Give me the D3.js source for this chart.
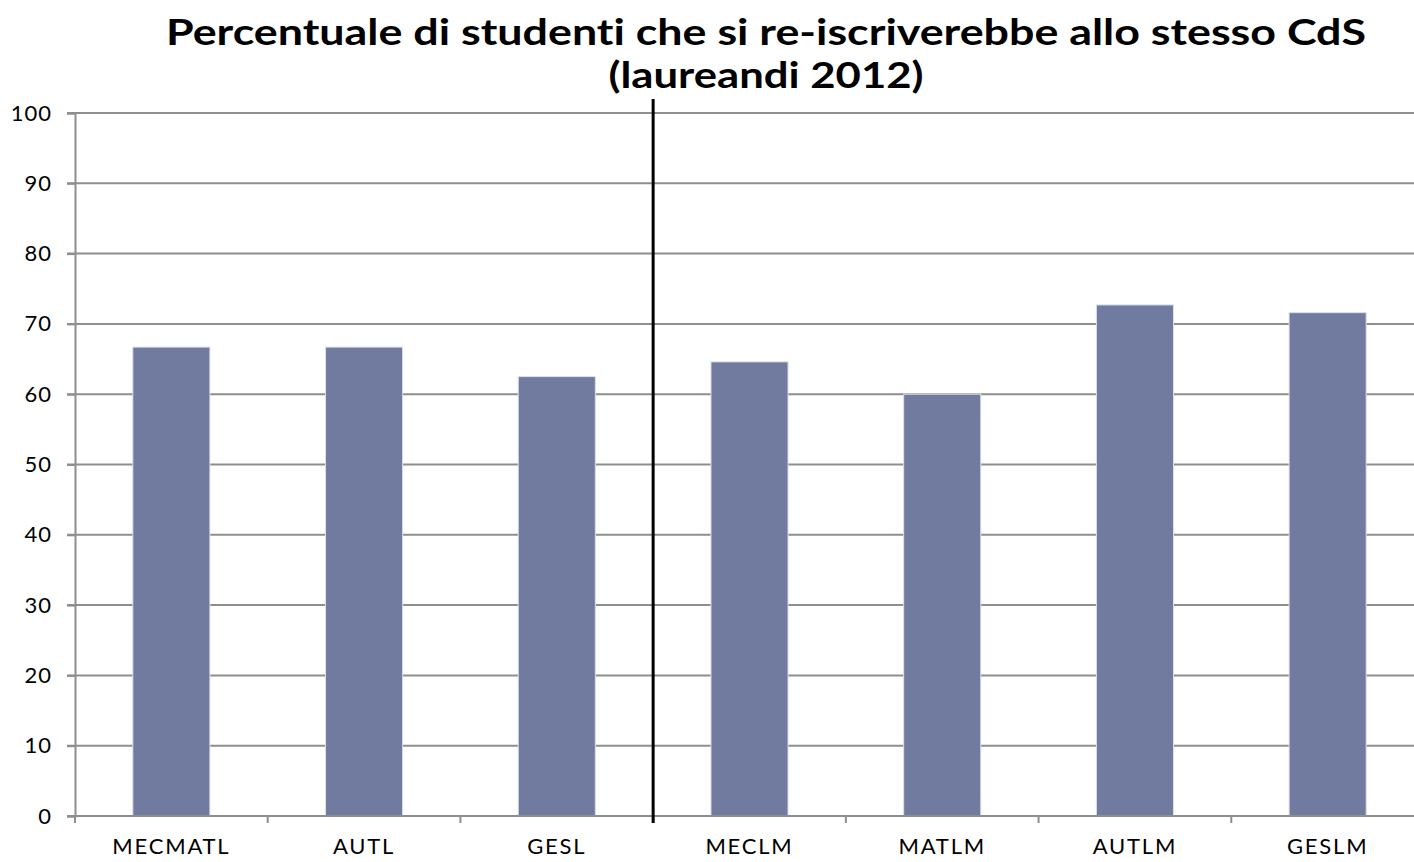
<!DOCTYPE html>
<html>
<head>
<meta charset="utf-8">
<script src="https://cdn.jsdelivr.net/npm/d3@7"></script>
<style>
  body { margin: 0; background: #fff; }
  svg { display: block; }
  text { font-variant-ligatures: none; }
</style>
</head>
<body>
<script>
const categories = ['MECMATL', 'AUTL', 'GESL', 'MECLM', 'MATLM', 'AUTLM', 'GESLM'];
const values = [66.7, 66.7, 62.5, 64.6, 60.0, 72.7, 71.6];
const yTicks = [0, 10, 20, 30, 40, 50, 60, 70, 80, 90, 100];
const titleLines = ['Percentuale di studenti che si re-iscriverebbe allo stesso CdS', '(laureandi 2012)'];
const titleWidths = [1200, 315];
const dividerAfter = 'GESL';

const width = 1414, height = 862;
const margin = { left: 75, top: 113, right: -10, bottom: 46 };

const svg = d3.select('body').append('svg')
    .attr('width', width)
    .attr('height', height);

const x = d3.scaleBand()
    .domain(categories)
    .range([margin.left, width - margin.right])
    .paddingInner(0.6)
    .paddingOuter(0.3);

const y = d3.scaleLinear()
    .domain([0, 100])
    .range([height - margin.bottom, margin.top]);

// gridlines
svg.append('g')
    .selectAll('line')
    .data(yTicks)
    .join('line')
      .attr('x1', margin.left - 8)
      .attr('x2', width)
      .attr('y1', d => y(d))
      .attr('y2', d => y(d))
      .attr('stroke', '#8e8e8e')
      .attr('stroke-width', 2);

// y axis
const yAxis = svg.append('g')
    .attr('transform', 'translate(' + margin.left + ',0)')
    .call(d3.axisLeft(y).tickValues(yTicks).tickSize(8).tickPadding(15));
yAxis.select('.domain').attr('stroke', '#8e8e8e').attr('stroke-width', 2);
yAxis.selectAll('.tick line').attr('stroke', '#8e8e8e').attr('stroke-width', 2);
yAxis.selectAll('text')
    .attr('font-family', 'Lato, sans-serif')
    .attr('font-size', 22)
    .attr('letter-spacing', 1)
    .attr('fill', '#000');

// bars
svg.append('g')
    .selectAll('rect')
    .data(values)
    .join('rect')
      .attr('x', (d, i) => x(categories[i]))
      .attr('y', d => y(d))
      .attr('width', x.bandwidth())
      .attr('height', d => y(0) - y(d))
      .attr('fill', '#717ba0')
      .attr('stroke', '#dde0ea')
      .attr('stroke-width', 1);

// x axis with ticks at category boundaries
const step = x.step();
const x0 = margin.left;
const bounds = d3.range(categories.length + 1).map(i => x0 + i * step);
const xAxis = svg.append('g');
xAxis.append('line')
    .attr('x1', margin.left)
    .attr('x2', width)
    .attr('y1', y(0))
    .attr('y2', y(0))
    .attr('stroke', '#8e8e8e')
    .attr('stroke-width', 2);
xAxis.selectAll('line.tk')
    .data(bounds)
    .join('line')
      .attr('class', 'tk')
      .attr('x1', d => d)
      .attr('x2', d => d)
      .attr('y1', y(0))
      .attr('y2', y(0) + 7)
      .attr('stroke', '#8e8e8e')
      .attr('stroke-width', 2);
xAxis.selectAll('text')
    .data(categories)
    .join('text')
      .attr('x', d => x(d) + x.bandwidth() / 2)
      .attr('y', y(0) + 38)
      .attr('text-anchor', 'middle')
      .attr('font-family', 'Lato, sans-serif')
      .attr('font-size', 22)
      .attr('letter-spacing', 1.8)
      .attr('fill', '#000')
      .text(d => d);

// divider line between the two groups
const divX = x0 + (categories.indexOf(dividerAfter) + 1) * step;
svg.append('line')
    .attr('x1', divX)
    .attr('x2', divX)
    .attr('y1', y(100) - 14)
    .attr('y2', y(0) + 7)
    .attr('stroke', '#000')
    .attr('stroke-width', 3);

// title
svg.append('g')
    .selectAll('text')
    .data(titleLines)
    .join('text')
      .attr('x', 766)
      .attr('y', (d, i) => 45 + i * 43)
      .attr('text-anchor', 'middle')
      .attr('font-family', 'Lato, sans-serif')
      .attr('font-weight', 'bold')
      .attr('font-size', 36)
      .attr('textLength', (d, i) => titleWidths[i])
      .attr('lengthAdjust', 'spacingAndGlyphs')
      .attr('fill', '#000')
      .text(d => d);
</script>
</body>
</html>
